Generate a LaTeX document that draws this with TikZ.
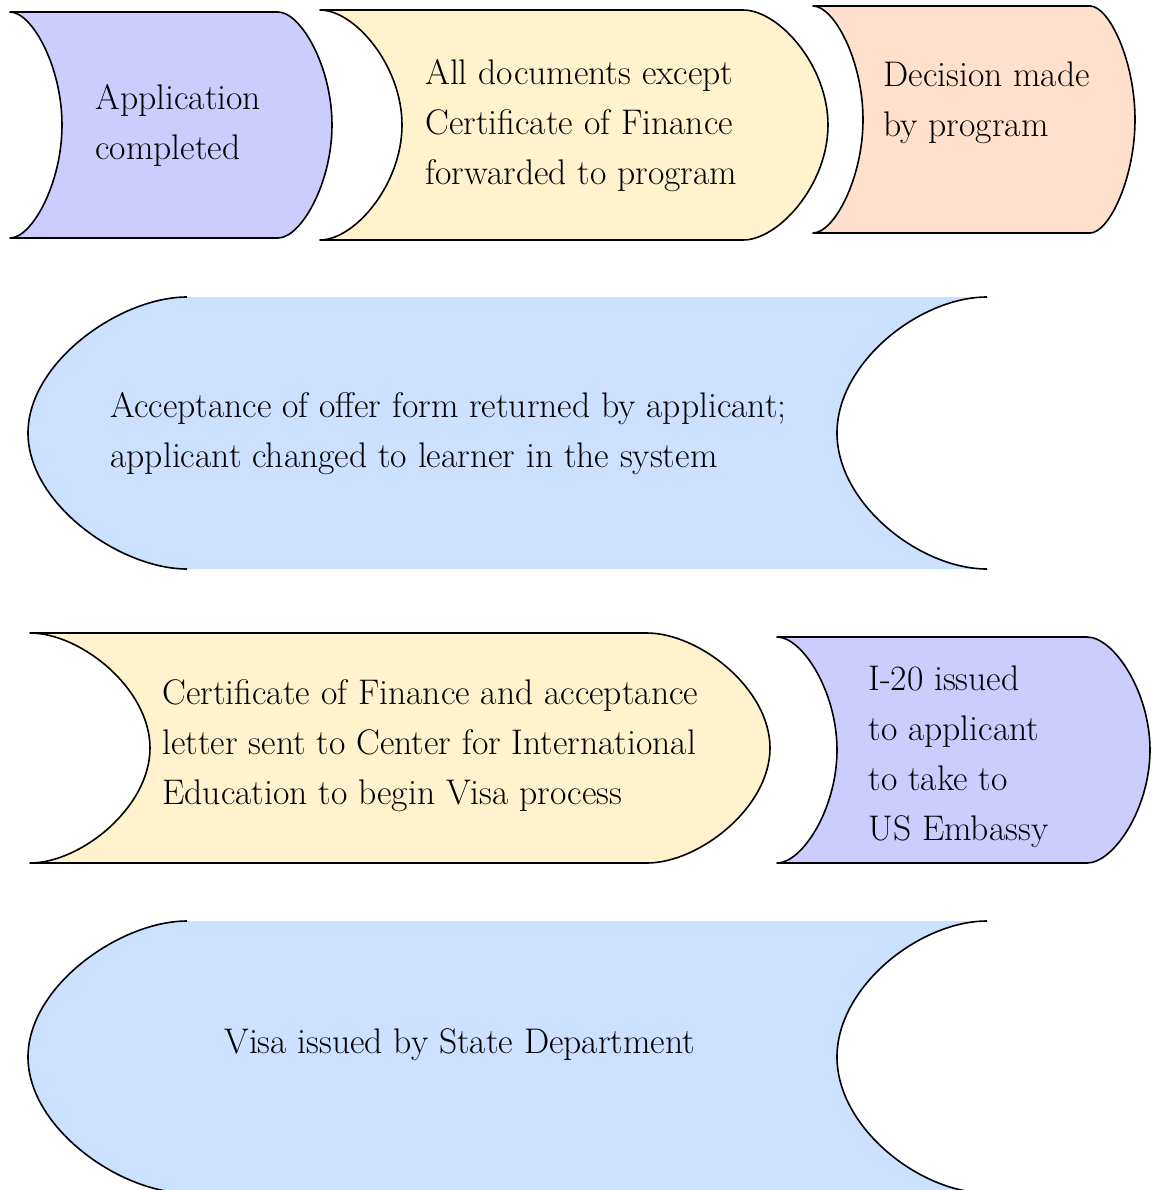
\documentclass[tikz,border=0pt]{standalone}
\definecolor{lilac}{RGB}{204,204,255}
\definecolor{cream}{RGB}{255,242,204}
\definecolor{peach}{RGB}{255,224,204}
\definecolor{sky}{RGB}{204,224,255}
\begin{document}
\begin{tikzpicture} [
                x=0.5pt, y=-0.5pt,
                tab/.style={draw=black,line width=0.8pt,line join=round},
                rim/.style={draw=black,line width=0.8pt},
                txt/.style={anchor=west,align=left,inner sep=0pt,
                    font=\fontsize{17.8}{25}\selectfont},
            ]
            \useasboundingbox (0,0) rectangle (1152,1190);
            % First we draw the tabs, hollow on the left and round on the right
            \foreach \l/\r/\t/\b/\dl/\dr/\col in {
                    10/278/12/238/52/54/lilac, 320/743/10/240/82/85/cream,
                    813/1090/6/233/50/45/peach, 30/647/633/863/120/123/cream,
                    777/1087/637/863/60/63/lilac}
                \path[tab,fill=\col] (\l,\t) -- (\r,\t)
                    .. controls ({\r+0.42*\dr},\t) and ({\r+\dr},{\t+0.24*(\b-\t)}) .. ({\r+\dr},{(\t+\b)/2})
                    .. controls ({\r+\dr},{\b-0.24*(\b-\t)}) and ({\r+0.42*\dr},\b) .. (\r,\b)
                    -- (\l,\b)
                    .. controls ({\l+0.42*\dl},\b) and ({\l+\dl},{\b-0.24*(\b-\t)}) .. ({\l+\dl},{(\t+\b)/2})
                    .. controls ({\l+\dl},{\t+0.24*(\b-\t)}) and ({\l+0.42*\dl},\t) .. (\l,\t) -- cycle;
            % Then the two wide bands, round on the left and hollow on the right
            \foreach \t/\b in {297/569, 921/1193}
                {
                \fill[sky] (187,\t) -- (997,\t) -- (987,\t)
                    .. controls (920,\t) and (837,{\t+0.24*(\b-\t)}) .. (837,{(\t+\b)/2})
                    .. controls (837,{\b-0.24*(\b-\t)}) and (920,\b) .. (987,\b)
                    -- (187,\b)
                    .. controls (120,\b) and (28,{\b-0.24*(\b-\t)}) .. (28,{(\t+\b)/2})
                    .. controls (28,{\t+0.24*(\b-\t)}) and (120,\t) .. (187,\t) -- cycle;
                \path[rim] (187,\t)
                    .. controls (120,\t) and (28,{\t+0.24*(\b-\t)}) .. (28,{(\t+\b)/2})
                    .. controls (28,{\b-0.24*(\b-\t)}) and (120,\b) .. (187,\b);
                \path[rim] (987,\t)
                    .. controls (920,\t) and (837,{\t+0.24*(\b-\t)}) .. (837,{(\t+\b)/2})
                    .. controls (837,{\b-0.24*(\b-\t)}) and (920,\b) .. (987,\b);
                }
            % Texts of the steps
            \node[txt] (applied) at (95,125) {Application\\completed};
            \node[txt] (forwarded) at (425,126) {All documents except\\Certificate of Finance\\forwarded to program};
            \node[txt] (decision) at (883,103) {Decision made\\by program};
            \node[txt] (accepted) at (110,434) {Acceptance of offer form returned by applicant;\\applicant changed to learner in the system};
            \node[txt] (certificate) at (162,746) {Certificate of Finance and acceptance\\letter sent to Center for International\\Education to begin Visa process};
            \node[txt] (issued) at (868,757) {I-20 issued\\to applicant\\to take to\\US Embassy};
            \node[txt] (visa) at (224,1045) {Visa issued by State Department};
        \end{tikzpicture}
\end{document}
